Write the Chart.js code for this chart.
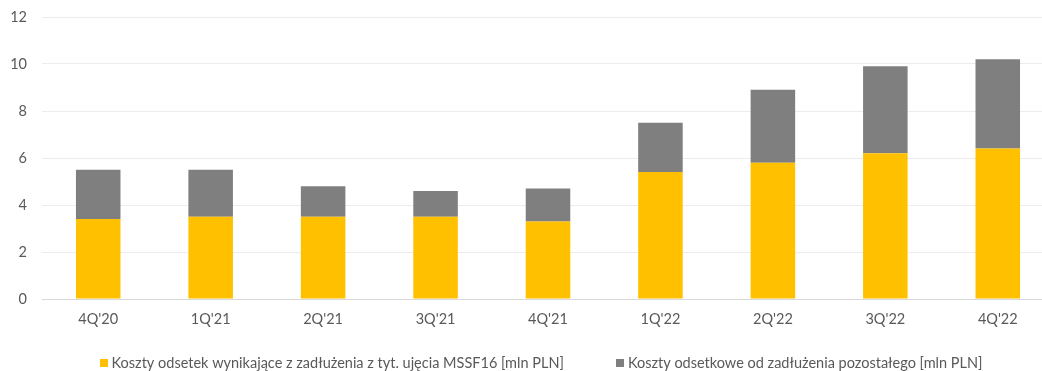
<!DOCTYPE html>
<html>
<head>
<meta charset="utf-8">
<script src="https://cdn.jsdelivr.net/npm/chart.js@4/dist/chart.umd.min.js"></script>
<style>
  html, body { margin: 0; padding: 0; background: #ffffff; overflow: hidden; }
  #wrap { position: relative; width: 1060px; height: 371px; }
</style>
</head>
<body>
<div id="wrap"><canvas id="c" width="1060" height="371"></canvas></div>
<script>
// Quarterly interest costs, stacked by source [mln PLN]
const quarters = ["4Q'20", "1Q'21", "2Q'21", "3Q'21", "4Q'21", "1Q'22", "2Q'22", "3Q'22", "4Q'22"];
const leaseInterest = [3.4, 3.5, 3.5, 3.5, 3.3, 5.4, 5.8, 6.2, 6.4];
const otherInterest = [2.1, 2.0, 1.3, 1.1, 1.4, 2.1, 3.1, 3.7, 3.8];
const seriesNames = [
  "Koszty odsetek wynikające z zadłużenia z tyt. ujęcia MSSF16 [mln PLN]",
  "Koszty odsetkowe od zadłużenia pozostałego [mln PLN]"
];
const yTicks = [0, 2, 4, 6, 8, 10, 12];

const FONT_FAMILY = "Lato, 'Liberation Sans', sans-serif";
const FONT_SIZE = 14.5;
const TEXT_COLOR = '#595959';

// Legend row drawn under the axis: square swatch + label, centred as a group
const bottomLegend = {
  id: 'bottomLegend',
  afterDraw(chart, args, opts) {
    const ctx = chart.ctx;
    ctx.save();
    ctx.font = opts.font;
    const items = chart.data.datasets.map(ds => ({
      text: ds.label,
      color: ds.backgroundColor,
      w: ctx.measureText(ds.label).width
    }));
    const total = items.reduce((s, it) => s + opts.box + opts.boxGap + it.w, 0) +
                  opts.itemGap * (items.length - 1);
    let x = opts.centerX - total / 2;
    ctx.textBaseline = 'middle';
    ctx.textAlign = 'left';
    items.forEach(it => {
      ctx.fillStyle = it.color;
      ctx.fillRect(Math.round(x), Math.round(opts.y - opts.box / 2), opts.box, opts.box);
      x += opts.box + opts.boxGap;
      ctx.fillStyle = opts.color;
      ctx.fillText(it.text, x, opts.y);
      x += it.w + opts.itemGap;
    });
    ctx.restore();
  }
};

new Chart(document.getElementById('c'), {
  type: 'bar',
  data: {
    labels: quarters,
    datasets: [
      { label: seriesNames[0], data: leaseInterest, backgroundColor: '#FFC000' },
      { label: seriesNames[1], data: otherInterest, backgroundColor: '#7F7F7F' }
    ]
  },
  options: {
    responsive: false,
    devicePixelRatio: 1,
    animation: false,
    layout: { padding: { left: 0, right: 6, top: 0, bottom: 0 } },
    datasets: {
      bar: { barPercentage: 0.396, categoryPercentage: 1.0, borderWidth: 0 }
    },
    scales: {
      x: {
        stacked: true,
        grid: { display: false, drawTicks: false },
        border: { display: true, color: '#d9d9d9', width: 1 },
        ticks: { color: TEXT_COLOR, font: { family: FONT_FAMILY, size: FONT_SIZE }, padding: 12, maxRotation: 0 },
        afterFit(scale) { scale.height = 72; }
      },
      y: {
        stacked: true,
        min: 0,
        max: 12,
        afterBuildTicks(scale) { scale.ticks = yTicks.map(v => ({ value: v })); },
        grid: { color: '#ececec', lineWidth: 1, drawTicks: false },
        border: { display: false },
        ticks: { color: TEXT_COLOR, font: { family: FONT_FAMILY, size: FONT_SIZE }, padding: 15 },
        afterFit(scale) {
          scale.width = 42;
          scale.paddingTop = 17;
          scale.paddingBottom = 0;
        }
      }
    },
    plugins: {
      legend: { display: false },
      tooltip: { enabled: false },
      bottomLegend: {
        font: FONT_SIZE + "px " + FONT_FAMILY,
        color: TEXT_COLOR,
        box: 8,
        boxGap: 4,
        itemGap: 52,
        centerX: 541,
        y: 363
      }
    }
  },
  plugins: [bottomLegend]
});
</script>
</body>
</html>
